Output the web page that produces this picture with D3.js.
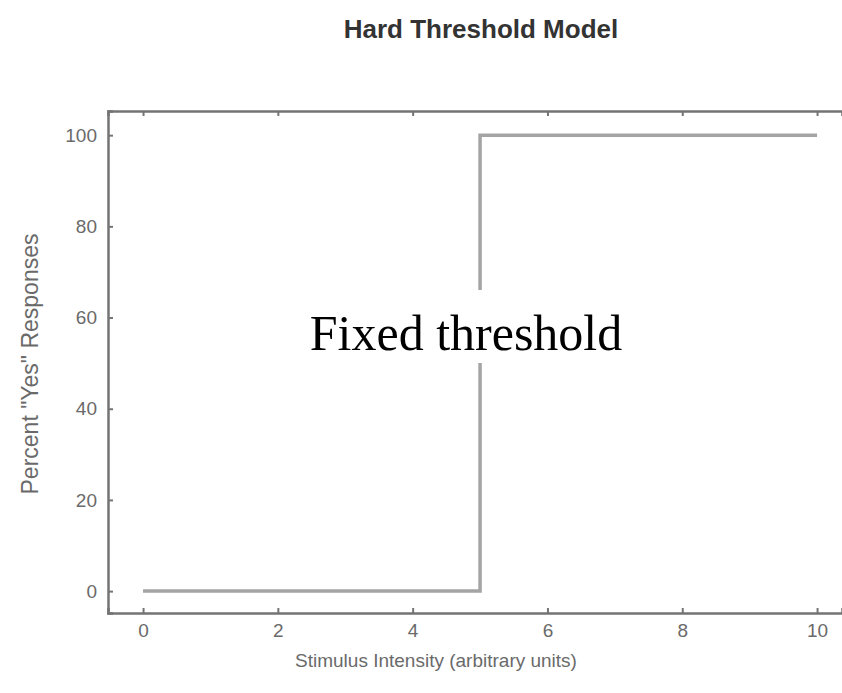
<!DOCTYPE html>
<html>
<head>
<meta charset="utf-8">
<script src="https://cdn.jsdelivr.net/npm/d3@7"></script>
<style>
  body { margin: 0; background: #fff; }
  svg { display: block; }
</style>
</head>
<body>
<script>
// step response of the hard threshold model
const stimulus = [0, 5, 5, 10];
const percentYes = [0, 0, 100, 100];
const xTicks = [0, 2, 4, 6, 8, 10];
const yTicks = [0, 20, 40, 60, 80, 100];

const width = 842;
const height = 693;

const svg = d3.select('body').append('svg')
  .attr('width', width)
  .attr('height', height);

const x = d3.scaleLinear().domain([-0.52, 10.37]).range([108, 842]);
const y = d3.scaleLinear().domain([-4.8, 105.3]).range([613, 111]);

const frameColor = '#747474';
const textColor = '#6a6a6a';

// Step line
const points = stimulus.map((s, i) => [s, percentYes[i]]);
const line = d3.line().x((d) => x(d[0])).y((d) => y(d[1]));

svg.append('path')
  .datum(points)
  .attr('d', line)
  .attr('fill', 'none')
  .attr('stroke', '#a4a4a4')
  .attr('stroke-width', 3.5);

// Axes, ticks pointing inward
const xAxis = svg.append('g')
  .attr('transform', `translate(0,${y(-4.8)})`)
  .call(d3.axisBottom(x).tickValues(xTicks).tickSize(-5).tickPadding(11).tickFormat(d3.format('d')));

const xTop = svg.append('g')
  .attr('transform', `translate(0,${y(105.3)})`)
  .call(d3.axisTop(x).tickValues(xTicks).tickSize(-5).tickFormat(''));

const yAxis = svg.append('g')
  .attr('transform', `translate(${x(-0.52)},0)`)
  .call(d3.axisLeft(y).tickValues(yTicks).tickSize(-5).tickPadding(11).tickFormat(d3.format('d')));

[xAxis, xTop, yAxis].forEach((g) => {
  g.select('.domain').attr('stroke', frameColor).attr('stroke-width', 2.5);
  g.selectAll('.tick line').attr('stroke', frameColor).attr('stroke-width', 2);
  g.selectAll('.tick text')
    .attr('fill', textColor)
    .style('font-family', 'Liberation Sans, Arial, sans-serif')
    .style('font-size', '19px');
});

// Title
svg.append('text')
  .attr('x', 481)
  .attr('y', 38)
  .attr('text-anchor', 'middle')
  .attr('fill', '#333')
  .style('font-family', 'Liberation Sans, Arial, sans-serif')
  .style('font-weight', 'bold')
  .style('font-size', '26px')
  .text('Hard Threshold Model');

// Axis labels
svg.append('text')
  .attr('x', 436)
  .attr('y', 667)
  .attr('text-anchor', 'middle')
  .attr('fill', textColor)
  .style('font-family', 'Liberation Sans, Arial, sans-serif')
  .style('font-size', '19px')
  .text('Stimulus Intensity (arbitrary units)');

svg.append('text')
  .attr('transform', 'translate(38,364) rotate(-90)')
  .attr('text-anchor', 'middle')
  .attr('fill', textColor)
  .style('font-family', 'Liberation Sans, Arial, sans-serif')
  .style('font-size', '23px')
  .text('Percent "Yes" Responses');

// Annotation with white box behind it
const note = svg.append('g');
const noteBox = note.append('rect').attr('fill', '#fff');
const noteText = note.append('text')
  .attr('x', 466)
  .attr('y', 350)
  .attr('text-anchor', 'middle')
  .attr('fill', '#000')
  .style('font-family', 'Liberation Serif, Times New Roman, serif')
  .style('font-size', '50px')
  .text('Fixed threshold');

const bb = noteText.node().getBBox();
noteBox
  .attr('x', bb.x - 6)
  .attr('y', 290)
  .attr('width', bb.width + 12)
  .attr('height', 73);
</script>
</body>
</html>
